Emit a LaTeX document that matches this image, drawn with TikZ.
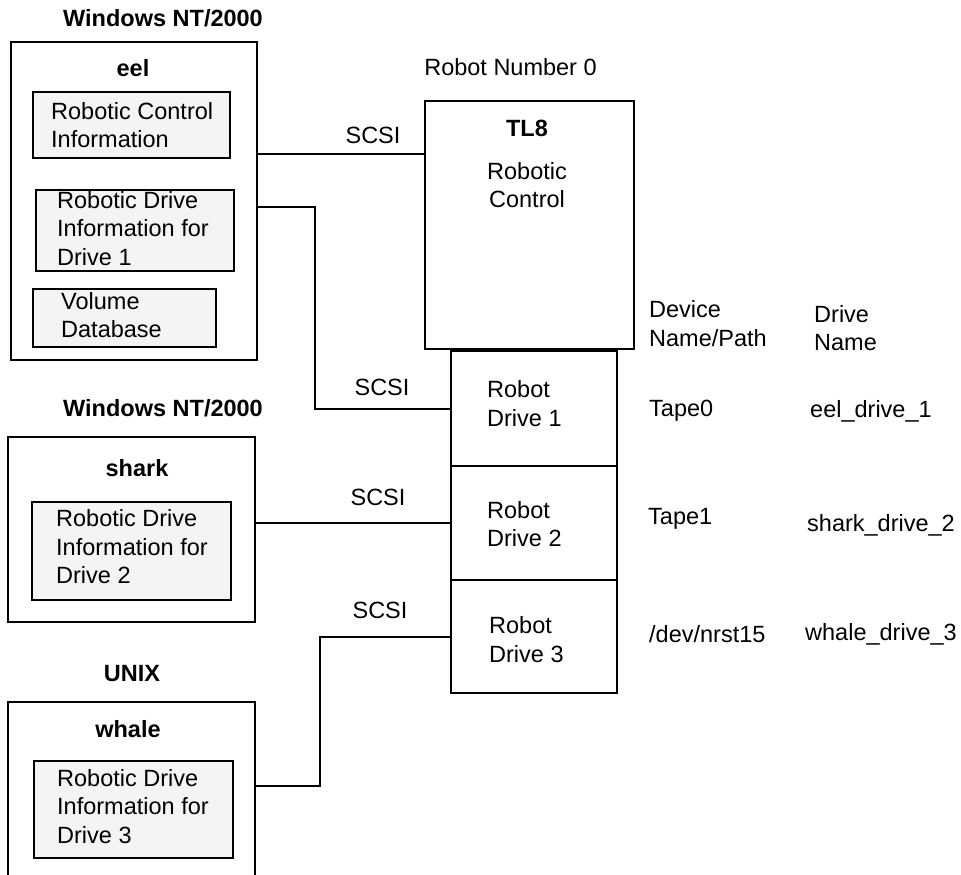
\documentclass[tikz,border=0pt]{standalone}
\usepackage{fontspec}
\setmainfont{Liberation Sans}
\usepackage{xcolor}
\usetikzlibrary{positioning}
\definecolor{InfoFill}{HTML}{F4F4F4}
\newcommand{\diagfont}{\fontsize{23.5}{28.5}\selectfont}

\tikzset{
  hostbox/.style={draw, line width=2pt, inner sep=0pt},
  infobox/.style={draw, line width=2pt, fill=InfoFill, inner sep=0pt},
  drivebox/.style={draw, line width=2pt, inner sep=0pt, minimum width=166pt},
  infotext/.style={align=left, inner sep=0pt, anchor=west},
  ostitle/.style={font=\diagfont\bfseries, inner sep=0pt},
  hostname/.style={font=\diagfont\bfseries, inner sep=0pt},
  lbl/.style={inner sep=0pt},
  link/.style={line width=2pt}
}

\begin{document}
\begin{tikzpicture}[x=1pt, y=-1pt, font=\diagfont]
  \useasboundingbox (0,0) rectangle (961,875);
  \clip (0,0) rectangle (961,875);

  % eel host
  \node[ostitle] (ttleel) at (163,18) {Windows NT/2000};
  \node[hostbox, minimum width=246pt, minimum height=318pt] (eel) at (134,201) {};
  \node[hostname] (eelname) at (133,68) {eel};
  \node[infobox, minimum width=197pt, minimum height=66pt] (rci) at (131.5,125) {};
  \node[infotext, right=19pt of rci.west] (rcit) {Robotic Control\\Information};
  \node[infobox, minimum width=198pt, minimum height=81pt] (rdi1) at (135,230.5) {};
  \node[infotext, right=22pt of rdi1.west, yshift=2pt] (rdi1t) {Robotic Drive\\Information for\\Drive 1};
  \node[infobox, minimum width=183pt, minimum height=58pt] (vdb) at (124.5,318) {};
  \node[infotext, right=29pt of vdb.west, yshift=3pt] (vdbt) {Volume\\Database};

  % shark host
  \node[ostitle] (ttlshark) at (163,408) {Windows NT/2000};
  \node[hostbox, minimum width=247pt, minimum height=185pt] (shark) at (131.5,529.5) {};
  \node[hostname] (sharkname) at (137,468) {shark};
  \node[infobox, minimum width=199pt, minimum height=98pt] (rdi2) at (131.5,551) {};
  \node[infotext, right=25pt of rdi2.west, yshift=4pt] (rdi2t) {Robotic Drive\\Information for\\Drive 2};

  % whale host
  \node[ostitle] (ttlwhale) at (132,674) {UNIX};
  \node[hostbox, minimum width=247pt, minimum height=220pt] (whale) at (131.5,812) {};
  \node[hostname] (whalename) at (128,729) {whale};
  \node[infobox, minimum width=199pt, minimum height=97pt] (rdi3) at (133.5,809.5) {};
  \node[infotext, right=24pt of rdi3.west, yshift=3pt] (rdi3t) {Robotic Drive\\Information for\\Drive 3};

  % robot
  \node[lbl] (robnum) at (510.5,67) {Robot Number 0};
  \node[hostbox, minimum width=209pt, minimum height=248pt] (tl8) at (529.5,225) {};
  \node[hostname] (tl8name) at (527,128) {TL8};
  \node[lbl, align=center] (tl8t) at (527,185) {Robotic\\Control};
  \node[drivebox, minimum height=115pt] (d1) at (534,408.5) {};
  \node[drivebox, minimum height=114pt] (d2) at (534,523) {};
  \node[drivebox, minimum height=113pt] (d3) at (534,636.5) {};
  \node[infotext, right=37pt of d1.west, yshift=5pt] (d1t) {Robot\\Drive 1};
  \node[infotext, right=37pt of d2.west, yshift=-1pt] (d2t) {Robot\\Drive 2};
  \node[infotext, right=39pt of d3.west, yshift=-3pt] (d3t) {Robot\\Drive 3};

  % device and drive names
  \node[infotext] (devhd) at (649,323.5) {Device\\Name/Path};
  \node[infotext] (drvhd) at (814,328) {Drive\\Name};
  \node[infotext] (dev1) at (649,411) {Tape0};
  \node[infotext] (drv1) at (810,411) {eel\_drive\_1};
  \node[infotext] (dev2) at (648,519) {Tape1};
  \node[infotext] (drv2) at (807,525) {shark\_drive\_2};
  \node[infotext] (dev3) at (649,634) {/dev/nrst15};
  \node[infotext] (drv3) at (805,634) {whale\_drive\_3};

  % SCSI links
  \coordinate (j0) at (0,154);
  \coordinate (j1) at (315,207);
  \coordinate (j3) at (320,786);
  \draw[link] (eel.east |- j0) -- (tl8.west |- j0);
  \draw[link] (eel.east |- j1) -- (j1) |- (d1.west);
  \draw[link] (shark.east |- d2.west) -- (d2.west);
  \draw[link] (d3.west) -| (j3) -- (whale.east |- j3);
  \node[lbl] (scsi0) at (373,135) {SCSI};
  \node[lbl] (scsi1) at (382,387) {SCSI};
  \node[lbl] (scsi2) at (378,497) {SCSI};
  \node[lbl] (scsi3) at (380,610) {SCSI};
\end{tikzpicture}
\end{document}
